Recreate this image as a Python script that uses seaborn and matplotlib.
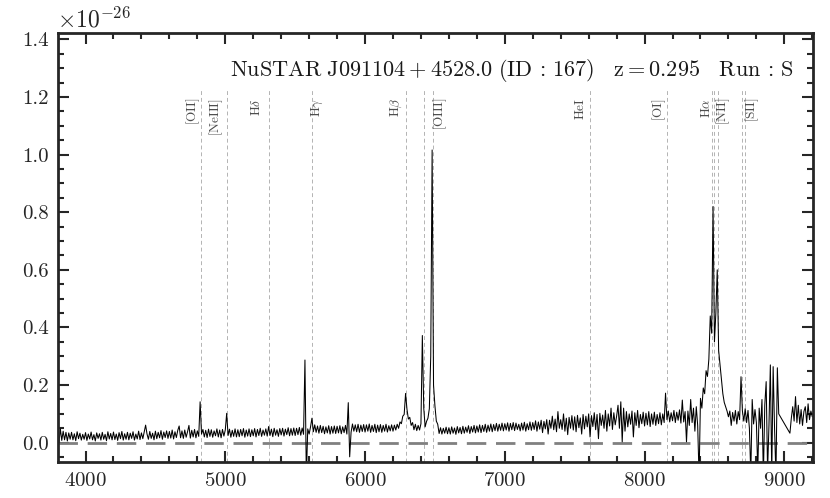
import numpy as np
import matplotlib
matplotlib.use("Agg")
import matplotlib.pyplot as plt
import matplotlib.ticker as ticker
import seaborn as sns

# redshift of the source, shown in the title
z = 0.295
title = (r'$\mathrm{NuSTAR\ J091104+4528.0\ (ID\,:\,167)'
         r'\quad z=0.295\quad Run\,:\,S}$')

# flux in units of 1e-26, sampled every 10 A (3800..8960, then 9040..9200)
flux_blue = [
    0.050, 0.000, 0.048, 0.008, 0.040, 0.010, 0.036, 0.006, 0.034, 0.012,  # 3800
    0.036, 0.010, 0.031, 0.007, 0.038, 0.014, 0.033, 0.009, 0.029, 0.012,  # 3900
    0.035, 0.008, 0.030, 0.013, 0.037, 0.010, 0.028, 0.006, 0.034, 0.015,  # 4000
    0.031, 0.009, 0.036, 0.012, 0.029, 0.007, 0.038, 0.013, 0.032, 0.010,  # 4100
    0.037, 0.011, 0.030, 0.008, 0.035, 0.014, 0.039, 0.009, 0.031, 0.012,  # 4200
    0.036, 0.010, 0.033, 0.015, 0.038, 0.009, 0.030, 0.013, 0.040, 0.011,  # 4300
    0.034, 0.014, 0.038, 0.061, 0.030, 0.012, 0.039, 0.015, 0.033, 0.010,  # 4400
    0.040, 0.014, 0.036, 0.017, 0.042, 0.012, 0.037, 0.018, 0.041, 0.015,  # 4500
    0.039, 0.016, 0.044, 0.013, 0.038, 0.018, 0.043, 0.058, 0.017, 0.041,  # 4600
    0.015, 0.044, 0.019, 0.038, 0.060, 0.016, 0.043, 0.020, 0.046, 0.017,  # 4700
    0.041, 0.022, 0.142, 0.030, 0.046, 0.020, 0.043, 0.018, 0.047, 0.022,  # 4800
    0.045, 0.019, 0.041, 0.024, 0.048, 0.020, 0.044, 0.017, 0.046, 0.023,  # 4900
    0.044, 0.102, 0.025, 0.047, 0.019, 0.043, 0.022, 0.048, 0.020, 0.045,  # 5000
    0.021, 0.046, 0.024, 0.049, 0.019, 0.044, 0.023, 0.048, 0.021, 0.045,  # 5100
    0.024, 0.049, 0.020, 0.046, 0.025, 0.050, 0.022, 0.044, 0.026, 0.048,  # 5200
    0.023, 0.056, 0.025, 0.047, 0.021, 0.050, 0.026, 0.045, 0.022, 0.049,  # 5300
    0.027, 0.050, 0.023, 0.047, 0.028, 0.052, 0.024, 0.049, 0.026, 0.051,  # 5400
    0.025, 0.050, 0.028, 0.053, 0.026, 0.051, 0.029, 0.287, -0.120, 0.048,  # 5500
    0.030, 0.055, 0.085, 0.038, 0.062, 0.036, 0.058, 0.033, 0.060, 0.035,  # 5600
    0.057, 0.031, 0.055, 0.034, 0.059, 0.030, 0.056, 0.033, 0.058, 0.032,  # 5700
    0.057, 0.034, 0.059, 0.031, 0.055, 0.035, 0.060, 0.030, 0.139, -0.049,  # 5800
    0.036, 0.065, 0.040, 0.062, 0.038, 0.064, 0.036, 0.061, 0.039, 0.063,  # 5900
    0.037, 0.062, 0.040, 0.065, 0.036, 0.060, 0.039, 0.064, 0.035, 0.061,  # 6000
    0.038, 0.063, 0.036, 0.060, 0.040, 0.064, 0.037, 0.059, 0.041, 0.062,  # 6100
    0.040, 0.061, 0.044, 0.064, 0.050, 0.072, 0.066, 0.092, 0.098, 0.171,  # 6200
    0.116, 0.082, 0.088, 0.060, 0.070, 0.045, 0.064, 0.042, 0.060, 0.044,  # 6300
    0.066, 0.372, 0.120, 0.055, 0.074, 0.085, 0.118, 0.300, 1.016, 0.200,  # 6400
    0.128, 0.075, 0.064, 0.032, 0.052, 0.030, 0.050, 0.033, 0.054, 0.031,  # 6500
    0.052, 0.030, 0.055, 0.033, 0.051, 0.029, 0.056, 0.034, 0.053, 0.031,  # 6600
    0.057, 0.033, 0.054, 0.036, 0.059, 0.032, 0.056, 0.037, 0.060, 0.034,  # 6700
    0.058, 0.037, 0.062, 0.035, 0.060, 0.039, 0.064, 0.036, 0.061, 0.040,  # 6800
    0.065, 0.038, 0.063, 0.042, 0.067, 0.040, 0.064, 0.043, 0.068, 0.041,  # 6900
    0.066, 0.044, 0.069, 0.040, 0.067, 0.045, 0.070, 0.042, 0.068, 0.046,  # 7000
    0.064, 0.041, 0.068, 0.044, 0.071, 0.040, 0.066, 0.045, 0.072, 0.043,  # 7100
    0.070, 0.046, 0.076, 0.040, 0.072, 0.047, 0.078, 0.035, 0.074, 0.048,  # 7200
    0.080, 0.030, 0.078, 0.050, 0.092, 0.045, 0.082, 0.038, 0.108, 0.050,  # 7300
    0.080, 0.046, 0.100, 0.040, 0.085, 0.028, 0.088, 0.050, 0.094, 0.044,  # 7400
    0.090, 0.038, 0.095, 0.052, 0.086, 0.030, 0.098, 0.048, 0.092, 0.055,  # 7500
    0.100, 0.020, 0.094, 0.056, 0.104, 0.045, 0.098, 0.014, 0.102, 0.060,  # 7600
    0.096, 0.050, 0.112, 0.040, 0.100, 0.058, 0.120, 0.046, 0.104, 0.062,  # 7700
    0.092, 0.130, 0.050, 0.142, 0.003, 0.120, 0.040, 0.108, 0.055, 0.100,  # 7800
    0.064, 0.110, 0.020, 0.104, 0.060, 0.112, 0.052, 0.098, 0.066, 0.106,  # 7900
    0.058, 0.102, 0.062, 0.108, 0.056, 0.100, 0.064, 0.106, 0.060, 0.098,  # 8000
    0.066, 0.104, 0.062, 0.100, 0.070, 0.172, 0.080, 0.110, 0.072, 0.104,  # 8100
    0.076, 0.112, 0.070, 0.106, 0.078, 0.114, 0.068, 0.148, 0.072, 0.108,  # 8200
    0.003, 0.110, 0.060, 0.150, 0.070, 0.120, 0.040, 0.125, 0.060, -0.120,  # 8300
    0.154, 0.120, 0.190, 0.170, 0.250, 0.230, 0.290, 0.440, 0.380, 0.820,  # 8400
    0.350, 0.450, 0.600, 0.320, 0.270, 0.220, 0.170, 0.140, 0.125, 0.110,  # 8500
    0.090, 0.110, 0.060, 0.105, 0.075, 0.112, 0.065, 0.108, 0.080, 0.229,  # 8600
    0.110, 0.075, 0.118, 0.070, 0.112, 0.050, -0.110, 0.150, 0.065, 0.115,  # 8700
    0.070, -0.100, 0.120, 0.050, 0.150, -0.120, 0.130, 0.212, -0.100, 0.060,  # 8800
    0.270, -0.110, 0.264, 0.050, -0.120, 0.260, 0.100,  # 8900..8960
]
flux_red = [0.033, 0.085, 0.125, 0.075, 0.160, 0.070, 0.130, 0.065, 0.115,
            0.060, 0.108, 0.125, 0.070, 0.135, 0.080, 0.110, 0.090]  # 9040..9200

wave = np.concatenate([np.arange(3800, 8970, 10), np.arange(9040, 9210, 10)])
flux = np.array(flux_blue + flux_red)
assert len(wave) == len(flux)

# rest wavelengths of the marked lines
line_rest = [3727, 3869, 4102, 4340, 4861, 4959, 5007, 5876, 6300,
             6548, 6563, 6583, 6716, 6731]
label_names = [r'$\mathrm{[OII]}$', r'$\mathrm{[NeIII]}$', r'$\mathrm{H\delta}$',
               r'$\mathrm{H\gamma}$', r'$\mathrm{H\beta}$', r'$\mathrm{[OIII]}$',
               r'$\mathrm{HeI}$', r'$\mathrm{[OI]}$', r'$\mathrm{H\alpha}$',
               r'$\mathrm{[NII]}$', r'$\mathrm{[SII]}$']
# where each label sits (observed wavelength)
label_wave = [4770, 4938, 5224, 5661, 6226, 6536, 7543, 8106, 8445, 8564, 8767]

sns.set_style('ticks')
plt.rcParams.update({
    'font.family': 'serif',
    'font.serif': ['cmr10', 'DejaVu Serif'],
    'mathtext.fontset': 'cm',
    'axes.formatter.use_mathtext': True,
    'axes.unicode_minus': False,
    'xtick.labelsize': 15,
    'ytick.labelsize': 15,
})

fig = plt.figure(figsize=(8.3, 4.98), dpi=100)
ax = fig.add_axes([0.0702, 0.0717, 0.9093, 0.8626])

ymin, ymax = -0.068, 1.423
obs = np.array(line_rest) * (1 + z)
ax.vlines(obs, ymin, 1.225, colors='#b3b3b3', linewidth=0.7,
          linestyles=(0, (4, 3)), zorder=1)
for name, w in zip(label_names, label_wave):
    ax.text(w, 1.197, name, rotation=90, ha='center', va='top',
            fontsize=9.5, color='0.3')

ax.axhline(0, color='0.5', linewidth=2, dashes=(7, 3.5), zorder=1)
sns.lineplot(x=wave, y=flux, color='k', linewidth=0.75, ax=ax, zorder=2)

ax.text(0.9735, 0.913, title, transform=ax.transAxes, ha='right', va='center',
        fontsize=16, color='0.1')

ax.set_xlim(3805, 9205)
ax.set_ylim(ymin, ymax)
ax.xaxis.set_major_locator(ticker.MultipleLocator(1000))
ax.xaxis.set_minor_locator(ticker.MultipleLocator(200))
ax.yaxis.set_major_locator(ticker.MultipleLocator(0.2))
ax.yaxis.set_minor_locator(ticker.MultipleLocator(0.05))
ax.yaxis.set_major_formatter(ticker.FormatStrFormatter('%.1f'))
ax.tick_params(which='both', direction='in', top=True, right=True, width=1.5)
ax.tick_params(which='major', length=8, pad=7)
ax.tick_params(which='minor', length=4.5)
for s in ax.spines.values():
    s.set_linewidth(2)

# flux is in units of 1e-26
fig.text(0.069, 0.944, r'$\times10^{-26}$', fontsize=17, ha='left',
         va='baseline')

fig.savefig('out.png', dpi=100)
